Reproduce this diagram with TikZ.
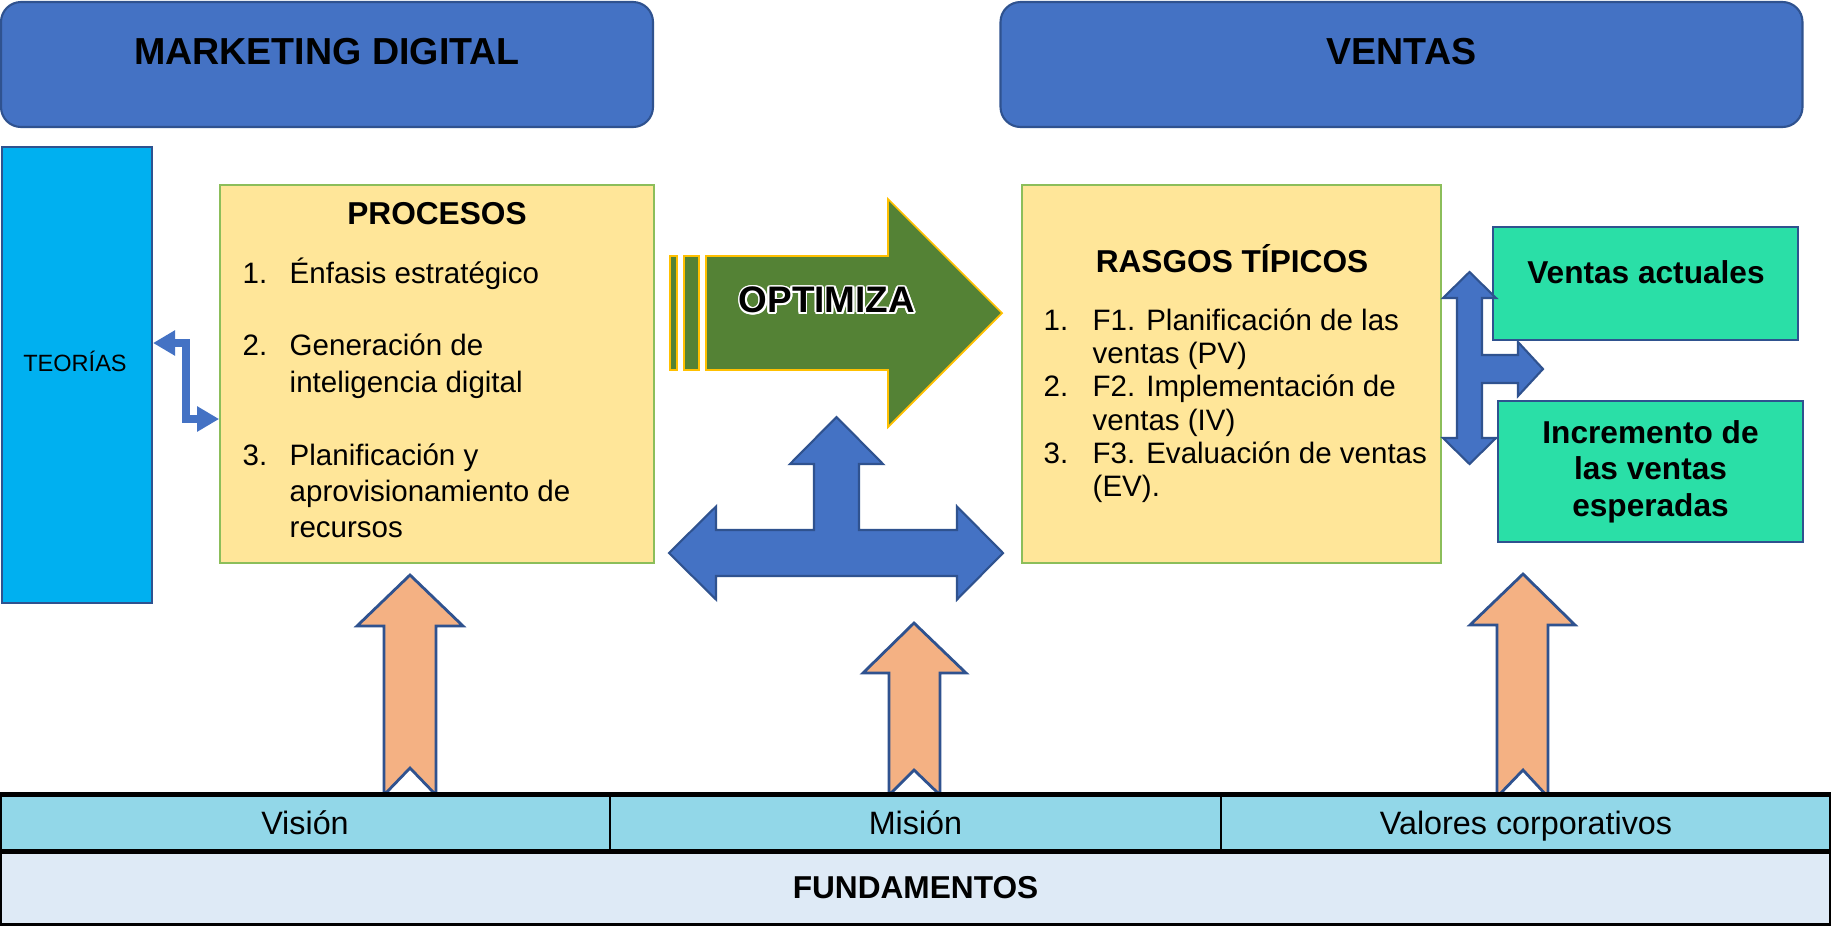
\documentclass[tikz,border=0pt]{standalone}
\usepackage{fontspec}
\setmainfont{Liberation Sans}
\usepackage[copies]{contour}
\usepackage{tikz}
\usetikzlibrary{arrows.meta}

\definecolor{headblue}{RGB}{68,114,196}
\definecolor{edgeblue}{RGB}{47,82,143}
\definecolor{skyblue}{RGB}{0,176,240}
\definecolor{paleyellow}{RGB}{255,230,153}
\definecolor{leafgreen}{RGB}{140,190,90}
\definecolor{darkgreen}{RGB}{84,130,53}
\definecolor{goldline}{RGB}{255,192,0}
\definecolor{mint}{RGB}{42,223,167}
\definecolor{peach}{RGB}{244,177,131}
\definecolor{rowblue}{RGB}{146,215,232}
\definecolor{baseblue}{RGB}{222,234,246}

\tikzstyle{header} = [rectangle, rounded corners=2mm, draw=edgeblue, fill=headblue, line width=0.6pt]
\tikzstyle{headtext} = [font=\fontsize{10.7}{12}\selectfont\bfseries]
\tikzstyle{theory} = [rectangle, draw=edgeblue, fill=skyblue, line width=0.6pt]
\tikzstyle{listbox} = [rectangle, draw=leafgreen, fill=paleyellow, line width=0.5pt]
\tikzstyle{boxtitle} = [font=\fontsize{9}{11}\selectfont\bfseries]
\tikzstyle{listtext} = [anchor=base west, inner sep=0pt]
\tikzstyle{result} = [rectangle, draw=edgeblue, fill=mint, line width=0.8pt, font=\fontsize{9}{10.4}\selectfont\bfseries, align=center]
\tikzstyle{blockarrow} = [draw=edgeblue, fill=headblue, line width=0.6pt, line join=miter]
\tikzstyle{greenarrow} = [draw=goldline, fill=darkgreen, line width=0.5pt]
\tikzstyle{opttext} = [font=\fontsize{10.5}{12}\selectfont\bfseries]
\tikzstyle{peacharrow} = [draw=edgeblue, fill=peach, line width=0.8pt, line join=miter]
\tikzstyle{cell} = [rectangle, draw=black, fill=rowblue, line width=0.3pt, inner ysep=0pt, text height=8.6pt, text depth=1.9pt, font=\fontsize{9.2}{11}\selectfont]
\tikzstyle{foundation} = [rectangle, fill=baseblue, font=\fontsize{9}{11}\selectfont\bfseries]
\tikzstyle{elbow} = [draw=headblue, line width=0.8mm, {Triangle[length=2.2mm,width=2.4mm]}-{Triangle[length=2.2mm,width=2.4mm]}]

\contourlength{0.5pt}

\begin{document}
\begin{tikzpicture}[x=0.1mm, y=-0.1mm]
	\path [use as bounding box, fill=white] (0,0) rectangle (1831,925);

	% cabeceras
	\node (mkt) [header, minimum width=65.2mm, minimum height=12.5mm] at (327,64.5) {};
	\node (mkttitle) [headtext] at (327,52) {MARKETING DIGITAL};
	\node (ventas) [header, minimum width=80.2mm, minimum height=12.5mm] at (1401.5,64.5) {};
	\node (ventastitle) [headtext] at (1401.5,52) {VENTAS};

	% lado izquierdo
	\node (teorias) [theory, minimum width=15mm, minimum height=45.6mm] at (77,375) {};
	\node (teoriastext) [font=\fontsize{6.7}{8}\selectfont] at (75,361) {TEORÍAS};
	\node (procesos) [listbox, minimum width=43.4mm, minimum height=37.8mm] at (437,374) {};
	\node (procesostitle) [boxtitle] at (437,214) {PROCESOS};
	\node (proclist) [listtext, font=\fontsize{8.4}{10.36}\selectfont] at (242,283) {\begin{tabular}[t]{@{}p{4.7mm}@{}l@{}}
		1. & Énfasis estratégico\\
		 & \\
		2. & Generación de\\
		 & inteligencia digital\\
		 & \\
		3. & Planificación y\\
		 & aprovisionamiento de\\
		 & recursos
	\end{tabular}};

	\draw [elbow] ([yshift=3.2mm]teorias.east) -- ++(3.3mm,0) |- ([yshift=-4.5mm]procesos.west);

	% flecha central
	\draw [greenarrow] (670,256) rectangle (677,370);
	\draw [greenarrow] (684,256) rectangle (699,370);
	\draw [greenarrow] (706,256) -- (888,256) -- (888,199) -- (1002,313) -- (888,427) -- (888,370) -- (706,370) -- cycle;
	\node (optimiza) [opttext] at (827,301) {\contour{white}{OPTIMIZA}};

	\draw [blockarrow] (669,553) -- (716,506.5) -- (716,530) -- (814,530) -- (814,464) -- (790,464) -- (836.5,417) -- (883,464) -- (859,464) -- (859,530) -- (957,530) -- (957,506.5) -- (1003,553) -- (957,599.5) -- (957,576) -- (716,576) -- (716,599.5) -- cycle;

	% lado derecho
	\node (rasgos) [listbox, minimum width=41.9mm, minimum height=37.8mm] at (1231.5,374) {};
	\node (rasgostitle) [boxtitle] at (1232,258.5) {RASGOS TÍPICOS};
	\node (rasgolist) [listtext, font=\fontsize{8.4}{9.5}\selectfont] at (1043,330) {\begin{tabular}[t]{@{}p{4.9mm}@{}l@{}}
		1. & F1. Planificación de las\\
		 & ventas (PV)\\
		2. & F2. Implementación de\\
		 & ventas (IV)\\
		3. & F3. Evaluación de ventas\\
		 & (EV).
	\end{tabular}};

	\node (actuales) [result, minimum width=30.5mm, minimum height=11.3mm] at (1645.5,283.5) {};
	\node (actualestext) [font=\fontsize{9}{10.4}\selectfont\bfseries] at (1646,272) {Ventas actuales};
	\node (incremento) [result, minimum width=30.5mm, minimum height=14.1mm] at (1650.5,471.5) {Incremento de\\las ventas\\esperadas};

	\draw [blockarrow] (1469.5,272) -- (1496,298) -- (1482,298) -- (1482,355) -- (1518,355) -- (1518,342) -- (1543,369) -- (1518,396) -- (1518,383) -- (1482,383) -- (1482,438) -- (1496,438) -- (1469.5,464) -- (1443,438) -- (1457,438) -- (1457,298) -- (1443,298) -- cycle;

	% flechas de los fundamentos
	\draw [peacharrow] (410,575) -- (463,626) -- (436,626) -- (436,795) -- (410,768) -- (384,795) -- (384,626) -- (357,626) -- cycle;
	\draw [peacharrow] (914,623) -- (966,673) -- (940,673) -- (940,795) -- (914,770) -- (889,795) -- (889,673) -- (863,673) -- cycle;
	\draw [peacharrow] (1523,574) -- (1575,625) -- (1548,625) -- (1548,797) -- (1523,770) -- (1497,797) -- (1497,625) -- (1470,625) -- cycle;

	% fundamentos
	\node (vision) [cell, minimum width=61mm, minimum height=5.6mm] at (305,823) {Visión};
	\node (mision) [cell, minimum width=61.1mm, minimum height=5.6mm] at (915.5,823) {Misión};
	\node (valores) [cell, minimum width=61mm, minimum height=5.6mm] at (1526,823) {Valores corporativos};
	\node (fundamentos) [foundation, minimum width=182.9mm, minimum height=7.3mm] at (915.5,887.5) {FUNDAMENTOS};
	\draw [line width=1.2pt] (vision.north west) rectangle (fundamentos.south east);
	\draw [line width=1.2pt] (vision.south west) -- (valores.south east);
\end{tikzpicture}
\end{document}
